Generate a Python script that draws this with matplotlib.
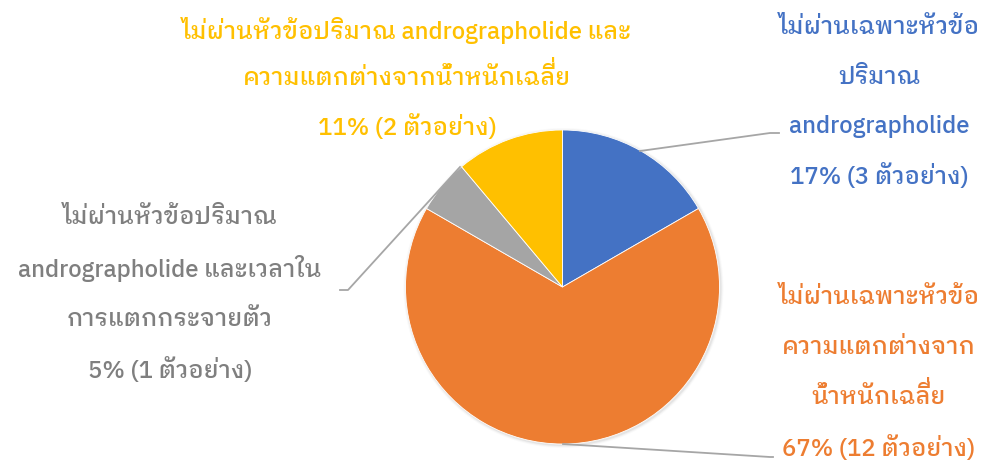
import matplotlib
matplotlib.use("Agg")
import matplotlib.pyplot as plt
from matplotlib.patches import Circle

# data
counts = [3, 12, 1, 2]
percents = [17, 67, 5, 11]
names = [
    ["ไม่ผ่านเฉพาะหัวข้อ", "ปริมาณ", "andrographolide"],
    ["ไม่ผ่านเฉพาะหัวข้อ", "ความแตกต่างจาก", "น้ำหนักเฉลี่ย"],
    ["ไม่ผ่านหัวข้อปริมาณ", "andrographolide และเวลาใน", "การแตกกระจายตัว"],
    ["ไม่ผ่านหัวข้อปริมาณ andrographolide และ", "ความแตกต่างจากน้ำหนักเฉลี่ย"],
]
colors = ["#4472C4", "#ED7D31", "#A5A5A5", "#FFC000"]
text_colors = ["#4472C4", "#ED7D31", "#7F7F7F", "#FFC000"]

W, H = 985, 463
fig = plt.figure(figsize=(W / 100, H / 100), dpi=100)
ax = fig.add_axes([0, 0, 1, 1])

cx, cy, r = 562.5, H - 287, 157

# soft shadow
for i, a in enumerate([0.10, 0.07, 0.04]):
    ax.add_patch(Circle((cx + 1, cy - 1), r + 1 + i, color="#808080", alpha=a, lw=0, zorder=0))

ax.pie(counts, colors=colors, startangle=90, counterclock=False,
       center=(cx, cy), radius=r, frame=True,
       wedgeprops=dict(edgecolor="white", linewidth=0.6, zorder=1))
ax.set_xlim(0, W)
ax.set_ylim(0, H)
ax.set_aspect("equal")
ax.axis("off")

style = dict(family=["IBM Plex Sans Thai Looped", "DejaVu Sans"], fontweight="medium", fontsize=17.2)
renderer = fig.canvas.get_renderer()


def put_line(x, y, s, col):
    # no Thai shaping in matplotlib: a tone mark over sara ii gets lost, so lift it by hand
    mark = "\u0e35\u0e48"
    if mark not in s:
        ax.text(x, y, s, ha="center", va="center", color=col, **style)
        return
    k = s.index(mark) + 1
    t = ax.text(x, y, s[:k] + s[k + 1:], ha="center", va="center", color=col, **style)
    pre = ax.text(0, 0, s[:k], color=col, **style)
    w_pre = pre.get_window_extent(renderer).width
    pre.remove()
    left = t.get_window_extent(renderer).x0
    ax.text(left + w_pre - 1, y + 7, "\u0e48", ha="right", va="center", color=col, **style)


# label block anchors: centre x, first line y (px from top), line step
anchors = [(879, 28, 49.3), (879, 298, 50), (170, 218, 50.7), (407, 30, 48.5)]
for name, pct, n, col, (tx, ty, step) in zip(names, percents, counts, text_colors, anchors):
    lines = name + [f"{pct}% ({n} ตัวอย่าง)"]
    for i, line in enumerate(lines):
        put_line(tx, H - (ty + i * step), line, col)

# leader lines
lc = "#A6A6A6"
ax.plot([640, 770, 779], [H - 151, H - 133, H - 133], color=lc, lw=1.3)
ax.plot([563, 770, 773], [H - 444, H - 457, H - 457], color=lc, lw=1.3)
ax.plot([460, 348, 340], [H - 167, H - 290, H - 290], color=lc, lw=1.3)

fig.savefig("out.png", dpi=100)
